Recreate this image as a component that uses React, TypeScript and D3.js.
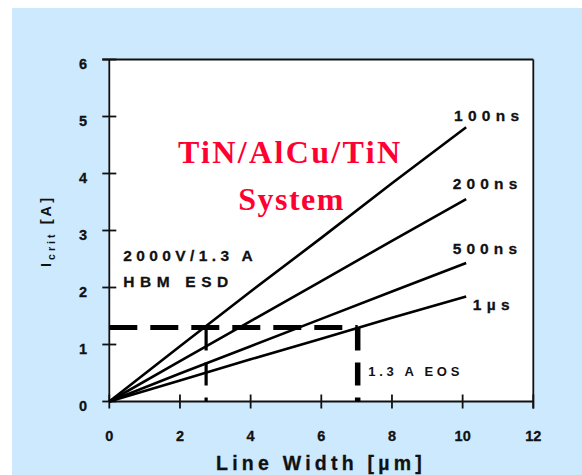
import React from "react";
import * as d3 from "d3";

const widths = [0, 2, 4, 6, 8, 10.1];
const s100ns = [0, 0.97, 1.93, 2.87, 3.83, 4.81];
const s200ns = [0, 0.71, 1.41, 2.11, 2.82, 3.55];
const s500ns = [0, 0.49, 0.97, 1.45, 1.93, 2.43];
const s1us = [0, 0.37, 0.74, 1.1, 1.47, 1.84];
const seriesLabels = ["100ns", "200ns", "500ns", "1\u00b5s"];
const xTicks = [0, 2, 4, 6, 8, 10, 12];
const yTicks = [0, 1, 2, 3, 4, 5, 6];
const critCurrent = 1.3;
const esdWidth = 2.74;
const eosWidth = 7.03;

const W = 582;
const H = 475;

export default function App() {
  const x = d3.scaleLinear().domain([0, 12]).range([109.3, 533.3]);
  const y = d3.scaleLinear().domain([0, 6]).range([401.5, 59.5]);
  const series = [s100ns, s200ns, s500ns, s1us];
  const line = d3
    .line<[number, number]>()
    .x((d) => x(d[0]))
    .y((d) => y(d[1]));

  const sans = "'Liberation Sans', Arial, sans-serif";
  const serif = "'Liberation Serif', 'Times New Roman', serif";

  // label placements (left, baseline, width)
  const labelPos = [
    { lx: 454, ly: 120.7, w: 65 },
    { lx: 452.7, ly: 189.3, w: 64.6 },
    { lx: 452.7, ly: 254, w: 64.3 },
    { lx: 472.7, ly: 309.5, w: 37 },
  ];

  const x0 = x(0);
  const x12 = x(12);
  const y0 = y(0);
  const y6 = y(6);

  return (
    <svg
      width={W}
      height={H}
      style={{ position: "absolute", left: 0, top: 0, display: "block" }}
    >
      <rect x={0} y={0} width={W} height={H} fill="#ffffff" />
      <rect x={12} y={8} width={W - 12} height={H - 8} fill="#cde9fd" />
      <rect x={x0} y={y6} width={x12 - x0} height={y0 - y6} fill="#ffffff" />

      {/* frame */}
      <g stroke="#111" strokeWidth={1.8} fill="none">
        <line x1={x0 - 7} y1={y6} x2={x12} y2={y6} />
        <line x1={x12} y1={y6} x2={x12} y2={y0 + 7} />
        <line x1={x0} y1={y6} x2={x0} y2={y0} />
        <line x1={x0} y1={y0} x2={x12} y2={y0} />
        {yTicks.map((t) => (
          <line key={"yt" + t} x1={x0 - 7} x2={x0 + 7} y1={y(t)} y2={y(t)} />
        ))}
        {xTicks.map((t) => (
          <line key={"xt" + t} x1={x(t)} x2={x(t)} y1={y0 - 7} y2={y0 + 7} />
        ))}
      </g>

      {/* tick labels */}
      <g fontFamily={sans} fontWeight="bold" fontSize={14.5} fill="#111" stroke="#111" strokeWidth={0.3}>
        {yTicks.map((t) => (
          <text
            key={"yl" + t}
            x={83}
            y={y(t) + 4}
            textAnchor="middle"
            dominantBaseline="central"
          >
            {t}
          </text>
        ))}
        {xTicks.map((t) => (
          <text
            key={"xl" + t}
            x={x(t)}
            y={436}
            textAnchor="middle"
            dominantBaseline="central"
          >
            {t}
          </text>
        ))}
      </g>

      {/* axis titles */}
      <text
        x={216}
        y={470}
        fontFamily={sans}
        fontWeight="bold"
        fontSize={19.5}
        fill="#111"
        stroke="#111"
        strokeWidth={0.3}
        textLength={205.7}
        lengthAdjust="spacing"
      >
        Line Width [{"\u00b5"}m]
      </text>
      <text
        transform="translate(51,267) rotate(-90)"
        fontFamily={sans}
        fontWeight="bold"
        fontSize={14.5}
        fill="#111"
        textLength={69}
        lengthAdjust="spacing"
      >
        I
        <tspan fontSize={10.5} dy={4}>
          crit
        </tspan>
        <tspan dy={-4}> [A]</tspan>
      </text>

      {/* dashed markers */}
      <g stroke="#000" fill="none">
        <line
          x1={x0}
          x2={x(eosWidth)}
          y1={y(critCurrent)}
          y2={y(critCurrent)}
          strokeWidth={5}
          strokeDasharray="28 13"
        />
        <line
          x1={x(esdWidth)}
          x2={x(esdWidth)}
          y1={y(critCurrent)}
          y2={y0}
          strokeWidth={3.2}
          strokeDasharray="23 12"
        />
        <line
          x1={x(eosWidth)}
          x2={x(eosWidth)}
          y1={y(critCurrent)}
          y2={y0}
          strokeWidth={5.5}
          strokeDasharray="23 12"
        />
      </g>

      {/* series lines */}
      {series.map((s, i) => (
        <path
          key={"s" + i}
          d={line(widths.map((w, j) => [w, s[j]] as [number, number])) || ""}
          fill="none"
          stroke="#000"
          strokeWidth={2.6}
        />
      ))}

      {/* series labels */}
      <g fontFamily={sans} fontWeight="bold" fontSize={15.5} fill="#111" stroke="#111" strokeWidth={0.3}>
        {seriesLabels.map((l, i) => (
          <text
            key={"l" + i}
            x={labelPos[i].lx}
            y={labelPos[i].ly}
            textLength={labelPos[i].w}
            lengthAdjust="spacing"
          >
            {l}
          </text>
        ))}
      </g>

      {/* annotations */}
      <g fontFamily={sans} fontWeight="bold" fill="#111">
        <g stroke="#111" strokeWidth={0.3}>
          <text x={123.3} y={260.7} fontSize={15.5} textLength={129.4} lengthAdjust="spacing">
            2000V/1.3 A
          </text>
          <text x={123.3} y={287.3} fontSize={15.5} textLength={105} lengthAdjust="spacing">
            HBM ESD
          </text>
        </g>
        <text x={368.3} y={376} fontSize={13} textLength={91} lengthAdjust="spacing">
          1.3 A EOS
        </text>
      </g>

      {/* title */}
      <g fontFamily={serif} fontWeight="bold" fill="#ff0033">
        <text x={178} y={163.3} fontSize={32} textLength={222} lengthAdjust="spacing">
          TiN/AlCu/TiN
        </text>
        <text x={238.3} y={210} fontSize={32} textLength={105} lengthAdjust="spacing">
          System
        </text>
      </g>
    </svg>
  );
}
